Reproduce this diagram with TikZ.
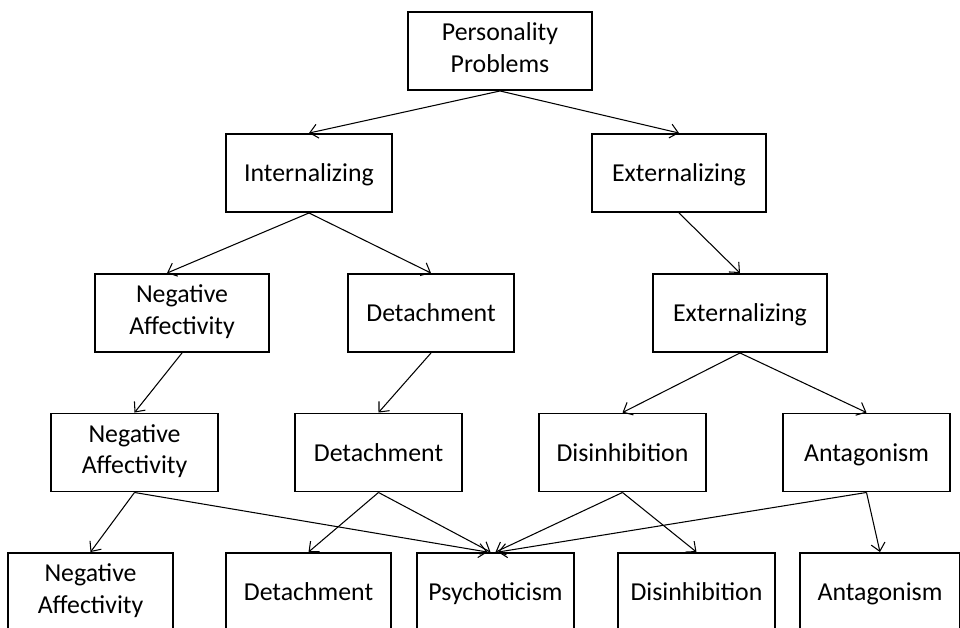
\documentclass[tikz,border=0pt]{standalone}
\usepackage{fontspec}
\setmainfont{Carlito}
\usetikzlibrary{arrows.meta}
% strut that keeps every label on the same line heights
\newcommand\boxstrut{\rule[-4pt]{0pt}{18pt}}

\begin{document}
\begin{tikzpicture}[x=0.02cm,y=-0.02cm]
    % `factor' is used for every box of the hierarchy.
    % `link' is used for the arrows from one level to the next.
    \tikzstyle{factor} = [draw,line width=1.1pt,minimum height=1.56cm,align=center,inner sep=2pt,font=\fontsize{14.7}{18}\selectfont,execute at begin node=\boxstrut,execute at end node=\boxstrut]
    \tikzstyle{link} = [line width=0.6pt,-{Straight Barb[length=4.5pt,width=8pt]}]
    %
    \useasboundingbox (0,0) rectangle (960,627);
    \clip (0,0) rectangle (960,627);
    % Level 0.
    \node[factor,minimum width=3.68cm] (pp) at (500,51) {Personality\\Problems};
    % Level 1.
    \node[factor,minimum width=3.32cm] (int1) at (309,173) {Internalizing};
    \node[factor,minimum width=3.48cm] (ext1) at (679,173) {Externalizing};
    % Level 2.
    \node[factor,minimum width=3.48cm] (na2) at (182,313) {Negative\\Affectivity};
    \node[factor,minimum width=3.32cm] (det2) at (431,313) {Detachment};
    \node[factor,minimum width=3.48cm] (ext2) at (740,313) {Externalizing};
    % Level 3.
    \node[factor,minimum width=3.34cm] (na3) at (134.5,452.5) {Negative\\Affectivity};
    \node[factor,minimum width=3.34cm] (det3) at (378.5,452.5) {Detachment};
    \node[factor,minimum width=3.34cm] (dis3) at (622.5,452.5) {Disinhibition};
    \node[factor,minimum width=3.34cm] (ant3) at (866.5,452.5) {Antagonism};
    % Level 4 (cut off by the lower edge).
    \node[factor,minimum width=3.3cm] (na4) at (90.5,592) {Negative\\Affectivity};
    \node[factor,minimum width=3.3cm] (det4) at (308.5,592) {Detachment};
    \node[factor,minimum width=3.14cm] (psy) at (495.5,592) {Psychoticism};
    \node[factor,minimum width=3.14cm] (dis4) at (696.5,592) {Disinhibition};
    \node[factor,minimum width=3.2cm] (ant4) at (880,592) {Antagonism};
    % Arrows.
    \draw[link] (pp.south) -- (int1.north);
    \draw[link] (pp.south) -- (ext1.north);
    \draw[link] (int1.south) -- ([xshift=-0.3cm]na2.north);
    \draw[link] (int1.south) -- (det2.north);
    \draw[link] (ext1.south) -- (ext2.north);
    \draw[link] (na2.south) -- (na3.north);
    \draw[link] (det2.south) -- (det3.north);
    \draw[link] (ext2.south) -- (dis3.north);
    \draw[link] (ext2.south) -- (ant3.north);
    \draw[link] (na3.south) -- (na4.north);
    \draw[link] (na3.south) -- ([xshift=-0.16cm]psy.north);
    \draw[link] (det3.south) -- (det4.north);
    \draw[link] (det3.south) -- ([xshift=-0.1cm]psy.north);
    \draw[link] (dis3.south) -- (psy.north);
    \draw[link] (dis3.south) -- (dis4.north);
    \draw[link] (ant3.south) -- (ant4.north);
    \draw[link] (ant3.south) -- ([xshift=0.05cm]psy.north);
\end{tikzpicture}
\end{document}
